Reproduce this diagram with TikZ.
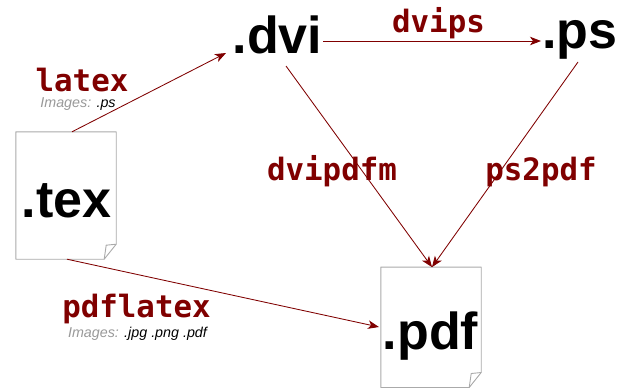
\documentclass[tikz,border=0pt]{standalone}
\usepackage{fontspec}
\setmainfont{Liberation Sans}
\newfontfamily\labmono{DejaVu Sans Mono}
\usetikzlibrary{arrows.meta,calc}
\definecolor{dred}{HTML}{800000}
\definecolor{pagegray}{HTML}{AAAAAA}
\definecolor{imggray}{HTML}{999999}
\newcommand\pageoutline[1]{%
  \draw[pageline] (#1.north west) -- (#1.north east) -- ($(#1.south east)+(0,-15)$) -- ($(#1.south east)+(-12,0)$) -- (#1.south west) -- cycle;
  \draw[pageline] ($(#1.south east)+(0,-15)$) -- ($(#1.south east)+(-10,-14)$) -- ($(#1.south east)+(-12,0)$);}
\begin{document}
\begin{tikzpicture}[x=1pt,y=-1pt,
  pageline/.style={draw=pagegray,line width=0.9pt,line join=round},
  pagebox/.style={rectangle,inner sep=0pt},
  ext/.style={font=\fontsize{52}{52}\selectfont\bfseries,anchor=base,inner sep=0pt},
  tool/.style={font=\labmono\fontsize{30.8}{30.8}\selectfont\bfseries,text=dred,anchor=base,inner sep=0pt},
  imgs/.style={font=\fontsize{14.3}{14.3}\selectfont\itshape,anchor=base,inner sep=0pt},
  conv/.style={draw=dred,line width=0.85pt,-{Stealth[length=11pt,width=8.5pt,inset=3pt]}}]
\useasboundingbox (0,0) rectangle (628,388);
\fill[white] (0,0) rectangle (628,388);
% pages
\node[pagebox,minimum width=100pt,minimum height=127pt] (texpage) at (66,195.5) {};
\node[pagebox,minimum width=100pt,minimum height=120pt] (pdfpage) at (431,327.3) {};
\pageoutline{texpage}
\pageoutline{pdfpage}
% file names
\node[ext] (tex) at (66.5,217) {.tex};
\node[ext] (pdf) at (430.5,349) {.pdf};
\node[ext] (dvi) at (277.5,53) {.dvi};
\node[ext] (ps) at (580,48) {.ps};
% tool labels
\node[tool,text depth=0pt] (llatex) at (82,91.5) {latex};
\node[imgs] (llateximg) at (78,107.5) {\textcolor{imggray}{Images:} .ps};
\node[tool] (ldvips) at (438.5,32) {dvips};
\node[tool] (ldvipdfm) at (332,180) {dvipdfm};
\node[tool] (lps2pdf) at (541,180) {ps2pdf};
\node[tool] (lpdflatex) at (136.5,317) {pdflatex};
\node[imgs] (lpdflateximg) at (137.5,337) {\textcolor{imggray}{Images:} .jpg .png .pdf};
% connector end points
\coordinate (texTop) at ($(texpage.north)+(6,0)$);
\coordinate (texBot) at ($(texpage.south)+(1,0)$);
\coordinate (dviIn) at (226,53);
\coordinate (dviRight) at (323,41);
\coordinate (dviBot) at (286,66);
\coordinate (psIn) at (541,41);
\coordinate (psBot) at (578,62);
\coordinate (pdfTop) at ($(pdfpage.north)+(1,0)$);
\coordinate (pdfLeft) at (379,327);
% connectors
\draw[conv] (texTop) -- (dviIn);
\draw[conv] (dviRight) -- (psIn);
\draw[conv] (dviBot) -- (pdfTop);
\draw[conv] (psBot) -- (pdfTop);
\draw[conv] (texBot) -- (pdfLeft);
\end{tikzpicture}
\end{document}
